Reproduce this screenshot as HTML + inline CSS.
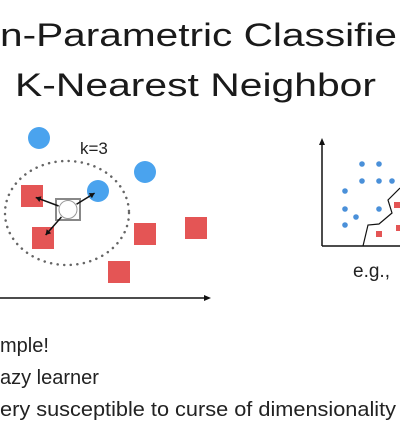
<!DOCTYPE html>
<html><head><meta charset="utf-8"><style>
html,body{margin:0;padding:0;background:#fff;width:400px;height:435px;overflow:hidden}
svg{display:block;font-family:"Liberation Sans",sans-serif}
</style></head><body>
<svg id="s" width="400" height="435" viewBox="0 0 400 435">
<text x="0" y="46" font-size="32" fill="#1a1a1a" textLength="397" lengthAdjust="spacingAndGlyphs">n-Parametric Classifie</text>
<text x="15" y="96" font-size="32" fill="#1a1a1a" textLength="361" lengthAdjust="spacingAndGlyphs">K-Nearest Neighbor</text>
<text x="80" y="154" font-size="17" fill="#222">k=3</text>
<ellipse cx="67" cy="213" rx="62" ry="52" fill="none" stroke="#666" stroke-width="2.5" stroke-dasharray="0.1 6.5" stroke-linecap="round"/>
<g id="left"></g>
<rect x="56" y="199" width="24" height="21" fill="#fff" stroke="#888" stroke-width="2"/>
<circle cx="68" cy="209.5" r="9" fill="#fff" stroke="#999" stroke-width="1"/>
<g id="arrows" stroke="#111" stroke-width="1.5"></g>
<line x1="0" y1="298" x2="206" y2="298" stroke="#111" stroke-width="1.5"/>
<polygon points="211,298 204,295 204,301" fill="#111"/>
<line x1="322" y1="142" x2="322" y2="246" stroke="#111" stroke-width="1.5"/>
<polygon points="322,138 319,145 325,145" fill="#111"/>
<line x1="322" y1="246" x2="400" y2="246" stroke="#111" stroke-width="1.5"/>
<polyline points="363,246 368,225 379,224 392,213 388,200 400,188" fill="none" stroke="#111" stroke-width="1.2"/>
<g id="right"></g>
<text x="353" y="277" font-size="19" fill="#222">e.g.,</text>
<text x="0" y="352" font-size="20" fill="#222">mple!</text>
<text x="0" y="384" font-size="20" fill="#222">azy learner</text>
<text x="0" y="416" font-size="20" fill="#222" textLength="396" lengthAdjust="spacingAndGlyphs">ery susceptible to curse of dimensionality</text>
</svg>
<script>
const blueX=[39,145,98];
const blueY=[138,172,191];
const redX=[32,43,145,196,119];
const redY=[196,238,234,228,272];
const nbrX=[32,43,98];
const nbrY=[196,238,191];
const rBlueX=[362,379,362,379,392,345,345,356,345,379];
const rBlueY=[164,164,181,181,181,191,209,217,225,209];
const rRedX=[397,399,379];
const rRedY=[205,228,234];
const NS="http://www.w3.org/2000/svg";
const L=document.getElementById('left'),R=document.getElementById('right'),A=document.getElementById('arrows');
function mk(t,a,p){const e=document.createElementNS(NS,t);for(const k in a)e.setAttribute(k,a[k]);p.appendChild(e);return e;}
blueX.forEach((x,i)=>{const e=mk('circle',{cx:x,cy:blueY[i],r:11,fill:'#4aa3ee'},L);

});
redX.forEach((x,i)=>{const e=mk('rect',{x:x-11,y:redY[i]-11,width:22,height:22,fill:'#e45555'},L);

});
nbrX.forEach((x,i)=>{const qx=68,qy=209.5;const dx=x-qx,dy=nbrY[i]-qy,d=Math.hypot(dx,dy);
const x1=qx+dx/d*10,y1=qy+dy/d*10,x2=x-dx/d*4,y2=nbrY[i]-dy/d*4;
const e=mk('line',{x1:x1,y1:y1,x2:x2,y2:y2},A);


const ux=dx/d,uy=dy/d;
const h=mk('polygon',{points:`${x2},${y2} ${x2-ux*5-uy*3},${y2-uy*5+ux*3} ${x2-ux*5+uy*3},${y2-uy*5-ux*3}`,fill:'#111',stroke:'none'},A);

});
rBlueX.forEach((x,i)=>{const e=mk('circle',{cx:x,cy:rBlueY[i],r:2.8,fill:'#4a90d9'},R);

});
rRedX.forEach((x,i)=>{const e=mk('rect',{x:x-3,y:rRedY[i]-3,width:6,height:6,fill:'#e45555'},R);

});
</script>
</body></html>
